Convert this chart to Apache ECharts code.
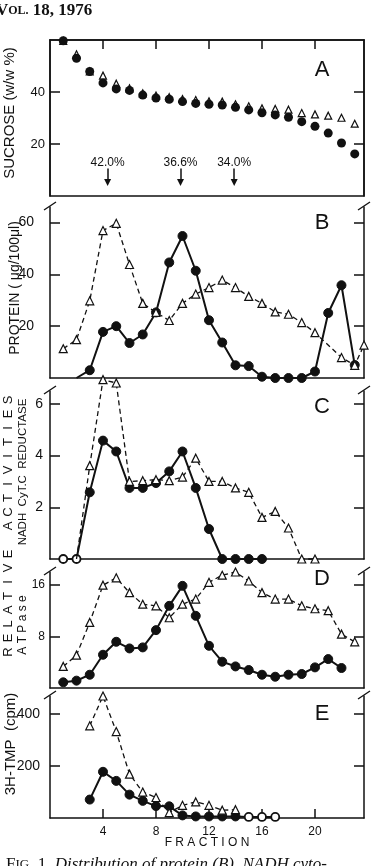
<!DOCTYPE html>
<html>
<head>
<meta charset="utf-8">
<script src="https://cdn.jsdelivr.net/npm/echarts@6.0.0/dist/echarts.min.js"></script>
<style>
html, body { margin: 0; padding: 0; background: #fff; }
#chart { width: 376px; height: 866px; }
</style>
</head>
<body>
<div id="chart"></div>
<script>
// ---- data (fraction number -> value) ----
var fractionTicks = [4, 8, 12, 16, 20];

// A: sucrose
var sucroseX = [1, 2, 3, 4, 5, 6, 7, 8, 9, 10, 11, 12, 13, 14, 15, 16, 17, 18, 19, 20, 21, 22, 23];
var sucroseFilled = [59.7, 53, 47.9, 43.5, 41.2, 40.6, 38.8, 37.7, 37.2, 36.3, 35.6, 35.3, 35, 34.1, 33.1, 32, 31.2, 30.3, 28.6, 26.8, 24.2, 20.4, 16.2];
var sucroseOpen = [59.7, 54.5, 47.9, 46.3, 43.2, 41.4, 39.5, 38.6, 38, 37.3, 36.9, 36.4, 36.3, 35.3, 34.5, 33.7, 33.5, 33.2, 31.9, 31.4, 30.9, 30.1, 27.8];
var sucroseTicks = [20, 40];
var arrowFractions = [4.35, 9.85, 13.9];
var arrowLabels = ['42.0%', '36.6%', '34.0%'];

// B: protein
var proteinFilledX = [2, 3, 4, 5, 6, 7, 8, 9, 10, 11, 12, 13, 14, 15, 16, 17, 18, 19, 20, 21, 22, 23];
var proteinFilled = [0, 3, 17.8, 20, 13.5, 16.8, 25.3, 44.6, 54.8, 41.4, 22.3, 13.7, 4.9, 4.6, 0.5, 0, 0, 0, 2.5, 25.1, 35.8, 5];
var proteinOpenX = [1, 2, 3, 4, 5, 6, 7, 8, 9, 10, 11, 12, 13, 14, 15, 16, 17, 18, 19, 20, 22, 23, 23.7];
var proteinOpen = [11.3, 14.8, 29.8, 56.9, 59.7, 43.8, 28.8, 25.3, 22.2, 28.8, 32.4, 34.9, 37.8, 34.9, 31.5, 28.8, 25.5, 24.6, 21.4, 17.5, 7.9, 4.9, 12.7];
var proteinTicks = [20, 40, 60];

// C: NADH cyt.c reductase
var activityFilledX = [1, 2, 3, 4, 5, 6, 7, 8, 9, 10, 11, 12, 13, 14, 15, 16];
var activityFilled = [0, 0, 2.58, 4.58, 4.16, 2.75, 2.75, 2.94, 3.39, 4.16, 2.75, 1.16, 0, 0, 0, 0];
var activityOpenX = [2, 3, 4, 5, 6, 7, 8, 9, 10, 11, 12, 13, 14, 15, 16, 17, 18, 19, 20];
var activityOpen = [0, 3.61, 6.94, 6.81, 3.0, 3.03, 3.07, 3.03, 3.17, 3.9, 3.0, 3.0, 2.75, 2.58, 1.61, 1.84, 1.2, 0, 0];
var activityTicks = [2, 4, 6];

// D: ATPase
var atpaseFilledX = [1, 2, 3, 4, 5, 6, 7, 8, 9, 10, 11, 12, 13, 14, 15, 16, 17, 18, 19, 20, 21, 22];
var atpaseFilled = [0.88, 1.14, 2.06, 5.16, 7.17, 6.14, 6.3, 8.98, 12.75, 15.85, 11.2, 6.55, 4.08, 3.35, 2.79, 2.06, 1.75, 2.06, 2.17, 3.2, 4.49, 3.1];
var atpaseOpenX = [1, 2, 3, 4, 5, 6, 7, 8, 9, 10, 11, 12, 13, 14, 15, 16, 17, 18, 19, 20, 21, 22, 23];
var atpaseOpen = [3.35, 5.1, 10.17, 15.95, 17.1, 14.8, 13.0, 12.75, 10.9, 13.0, 13.8, 16.4, 17.5, 18.0, 16.6, 14.8, 13.8, 13.8, 12.75, 12.3, 12.0, 8.36, 7.17];
var atpaseTicks = [8, 16];

// E: 3H-TMP
var tmpFilledX = [3, 4, 5, 6, 7, 8, 9, 10, 11, 12, 13, 14, 15, 16, 17];
var tmpFilled = [71, 178, 143, 90, 66, 46, 45, 10, 6, 6, 6, 6, 4, 4, 4];
var tmpOpenX = [3, 4, 5, 6, 7, 8, 9, 10, 11, 12, 13, 14];
var tmpOpen = [355, 470, 333, 169, 100, 79, 21, 49, 62, 49, 30, 32];
var tmpTicks = [200, 400];

// points drawn as open circles
var hollowC = [1, 2];
var hollowE = [15, 16, 17];

// ---- layout ----
var ink = '#111';
var sans = '"Liberation Sans", Arial, sans-serif';
var serif = '"Liberation Serif", "DejaVu Serif", serif';
var L = 50, R = 364;
var panels = [
	{ top: 40, height: 156, max: 60, ticks: sucroseTicks, size: 13, margin: 5, letter: 'A', ly: 70 },
	{ top: 207, height: 171, max: 66, ticks: proteinTicks, size: 14, margin: 16, letter: 'B', ly: 223 },
	{ top: 391, height: 168, max: 6.5, ticks: activityTicks, size: 14, margin: 7, letter: 'C', ly: 407 },
	{ top: 572, height: 116, max: 18, ticks: atpaseTicks, size: 12, margin: 5, letter: 'D', ly: 579 },
	{ top: 696, height: 122, max: 470, ticks: tmpTicks, size: 14, margin: 10, letter: 'E', ly: 714 }
];

var grids = [], xAxes = [], yAxes = [], graphics = [];
panels.forEach(function(p, i) {
	grids.push({
		left: L, width: R - L, top: p.top, height: p.height,
		show: i == 0, borderColor: ink, borderWidth: 1.5, backgroundColor: 'transparent'
	});
	xAxes.push({
		gridIndex: i, type: 'value', min: 0, max: 23.7,
		position: i == 0 ? 'top' : 'bottom',
		axisLine: { show: true, onZero: false, lineStyle: { color: ink, width: 1.5 } },
		axisTick: { show: i == 0 || i == 4, inside: true, length: 9, customValues: fractionTicks, lineStyle: { color: ink, width: 1.5 } },
		axisLabel: { show: i == 4, customValues: fractionTicks, margin: 8, fontSize: 12, color: ink, fontFamily: sans },
		splitLine: { show: false }
	});
	['left', 'right'].forEach(function(side) {
		yAxes.push({
			gridIndex: i, type: 'value', min: 0, max: p.max, position: side,
			axisLine: { show: true, onZero: false, lineStyle: { color: ink, width: 1.5 } },
			axisTick: { inside: true, length: 10, customValues: p.ticks, lineStyle: { color: ink, width: 1.5 } },
			axisLabel: { show: side == 'left', customValues: p.ticks, margin: p.margin, fontSize: p.size, color: ink, fontFamily: sans },
			splitLine: { show: false }
		});
	});
	graphics.push({
		type: 'text', x: 322, y: p.ly,
		style: { text: p.letter, font: '22px ' + sans, fill: ink, align: 'center', verticalAlign: 'middle' }
	});
	if (i > 0) {
		[L, R].forEach(function(x) {
			graphics.push({
				type: 'line',
				shape: { x1: x - 6, y1: p.top + 3, x2: x + 6, y2: p.top - 5 },
				style: { stroke: ink, lineWidth: 1.3 }
			});
		});
	}
});

function pts(xs, ys, hollow) {
	return xs.map(function(x, k) {
		var item = { value: [x, ys[k]] };
		if (hollow && hollow.indexOf(x) >= 0) {
			item.itemStyle = { color: '#fff', borderColor: ink, borderWidth: 1.8 };
			item.symbolSize = 8;
		}
		return item;
	});
}

function filled(i, xs, ys, hollow) {
	return {
		type: 'line', xAxisIndex: i, yAxisIndex: 2 * i, data: pts(xs, ys, hollow),
		symbol: 'circle', symbolSize: 9, showAllSymbol: true, clip: false,
		itemStyle: { color: ink, borderColor: ink, borderWidth: 1 },
		lineStyle: { color: ink, width: 2 }, z: 3
	};
}

function open(i, xs, ys) {
	return {
		type: 'line', xAxisIndex: i, yAxisIndex: 2 * i, data: pts(xs, ys),
		symbol: 'triangle', symbolSize: 8, showAllSymbol: true, clip: false,
		itemStyle: { color: '#fff', borderColor: ink, borderWidth: 1.2 },
		lineStyle: { color: ink, width: 1.3, type: [5, 3.5] }, z: 4
	};
}

// panel A: points only, with arrows for the marker positions
var sucroseOpenS = {
	type: 'scatter', xAxisIndex: 0, yAxisIndex: 0, data: pts(sucroseX, sucroseOpen),
	symbol: 'triangle', symbolSize: 7, clip: false,
	itemStyle: { color: '#fff', borderColor: ink, borderWidth: 1.2, opacity: 1 }, z: 3
};
var sucroseFilledS = {
	type: 'scatter', xAxisIndex: 0, yAxisIndex: 0, data: pts(sucroseX, sucroseFilled),
	symbol: 'circle', symbolSize: 9, clip: false,
	itemStyle: { color: ink, opacity: 1 }, z: 4,
	markLine: {
		silent: true, animation: false,
		symbol: ['none', 'triangle'], symbolSize: 7,
		lineStyle: { color: ink, width: 1.5, type: 'solid' },
		label: { show: true, position: 'start', formatter: '{b}', distance: 0, fontSize: 12, color: ink, fontFamily: sans },
		data: arrowFractions.map(function(x, k) {
			return [{ coord: [x, 10.6], name: arrowLabels[k] }, { coord: [x, 5.2] }];
		})
	}
};

// protein f2 and activity open f2 have no marker
var proteinFilledS = filled(1, proteinFilledX, proteinFilled);
proteinFilledS.data[0].symbol = 'none';
var activityOpenS = open(2, activityOpenX, activityOpen);
activityOpenS.data[0].symbol = 'none';

var series = [
	sucroseOpenS, sucroseFilledS,
	proteinFilledS, open(1, proteinOpenX, proteinOpen),
	filled(2, activityFilledX, activityFilled, hollowC), activityOpenS,
	filled(3, atpaseFilledX, atpaseFilled), open(3, atpaseOpenX, atpaseOpen),
	filled(4, tmpFilledX, tmpFilled, hollowE), open(4, tmpOpenX, tmpOpen)
];

// axis titles and page text
function vtext(x, y, text, font) {
	return {
		type: 'text', x: x, y: y, rotation: Math.PI / 2,
		style: { text: text, font: font, fill: ink, align: 'center', verticalAlign: 'middle' }
	};
}
// letter-spaced vertical text, one glyph at a time, reading bottom to top
function spaced(x, yBottom, text, step, font) {
	text.split('').forEach(function(ch, k) {
		if (ch != ' ') graphics.push(vtext(x, yBottom - k * step, ch, font));
	});
}
graphics.push(vtext(10, 113, 'SUCROSE (w/w %)', '15px ' + sans));
graphics.push(vtext(15, 288, 'PROTEIN ( \u03bcg/100\u03bcl)', '14px ' + sans));
spaced(8, 652, 'RELATIVE ACTIVITIES', 14, '13px ' + sans);
graphics.push(vtext(23, 472, 'NADH  CyT.C  REDUCTASE', '11.5px ' + sans));
graphics.push(vtext(23, 625, 'A T P a s e', '12px ' + sans));
graphics.push(vtext(11, 744, '3H-TMP  (cpm)', '15px ' + sans));
graphics.push({
	type: 'text', x: 207, y: 843,
	style: { text: 'F R A C T I O N', font: '12px ' + sans, fill: ink, align: 'center', verticalAlign: 'middle' }
});
graphics.push({
	type: 'text', x: -4, y: 11,
	style: {
		text: '{a|V}{b|OL.}{a| 18, 1976}', fill: ink, verticalAlign: 'middle',
		rich: {
			a: { font: 'bold 17px ' + serif, fill: ink },
			b: { font: 'bold 12px ' + serif, fill: ink }
		}
	}
});
graphics.push({
	type: 'text', x: 6, y: 856,
	style: {
		text: '{a|F}{b|IG}{a|. 1. }{c|Distribution of protein (B), NADH cyto-}', fill: ink, verticalAlign: 'top',
		rich: {
			a: { font: '17px ' + serif, fill: ink },
			b: { font: '13px ' + serif, fill: ink },
			c: { font: 'italic 17px ' + serif, fill: ink }
		}
	}
});

var myChart = echarts.init(document.getElementById('chart'));
myChart.setOption({
	animation: false,
	grid: grids,
	xAxis: xAxes,
	yAxis: yAxes,
	series: series,
	graphic: graphics
});
</script>
</body>
</html>
